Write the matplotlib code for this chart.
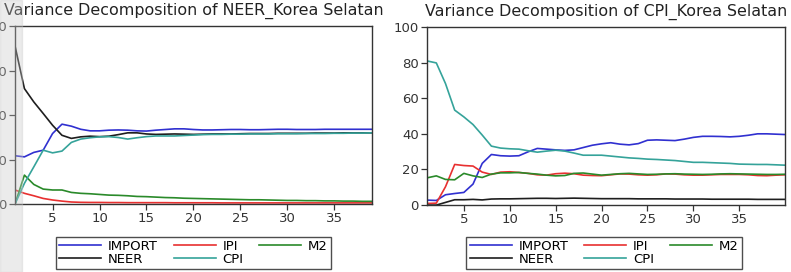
import numpy as np
import matplotlib
matplotlib.use('Agg')
import matplotlib.pyplot as plt
from matplotlib.patches import Rectangle

# Variance decomposition of NEER (periods 1..39)
neer_import = [21.7, 21.2, 23.2, 24.2, 31.7, 35.9, 35.0, 33.6, 32.9, 32.9,
               33.2, 33.3, 33.2, 32.9, 32.8, 33.2, 33.5, 33.8, 33.8, 33.5,
               33.3, 33.3, 33.4, 33.5, 33.5, 33.4, 33.4, 33.5, 33.6, 33.6,
               33.5, 33.5, 33.5, 33.6, 33.6, 33.6, 33.6, 33.6, 33.6]
neer_ipi = [6.3, 4.8, 3.7, 2.5, 1.8, 1.3, 0.9, 0.75, 0.7, 0.7,
            0.65, 0.65, 0.6, 0.6, 0.6, 0.6, 0.6, 0.55, 0.55, 0.55,
            0.55, 0.55, 0.5, 0.5, 0.5, 0.5, 0.5, 0.5, 0.5, 0.5,
            0.5, 0.5, 0.5, 0.5, 0.5, 0.5, 0.5, 0.5, 0.5]
neer_m2 = [0.0, 13.0, 8.8, 6.7, 6.3, 6.3, 5.2, 4.8, 4.6, 4.3,
           4.0, 3.9, 3.7, 3.4, 3.3, 3.1, 2.9, 2.8, 2.6, 2.5,
           2.4, 2.3, 2.2, 2.1, 2.0, 1.9, 1.9, 1.8, 1.7, 1.6,
           1.6, 1.5, 1.5, 1.4, 1.4, 1.3, 1.3, 1.2, 1.2]
neer_neer = [71.0, 51.9, 45.9, 40.7, 35.4, 30.9, 29.5, 30.2, 30.5, 30.3,
             30.5, 31.2, 32.0, 32.0, 31.5, 31.3, 31.4, 31.5, 31.4, 31.3,
             31.4, 31.5, 31.5, 31.5, 31.6, 31.7, 31.7, 31.7, 31.8, 31.8,
             31.8, 31.8, 31.9, 31.9, 31.9, 32.0, 32.0, 32.0, 32.0]
neer_cpi = [0.0, 9.3, 16.7, 24.2, 23.0, 23.8, 27.7, 29.2, 29.8, 30.2,
            30.3, 29.9, 29.2, 29.8, 30.3, 30.6, 30.6, 30.6, 30.8, 31.0,
            31.2, 31.3, 31.3, 31.4, 31.4, 31.5, 31.5, 31.5, 31.6, 31.6,
            31.6, 31.7, 31.7, 31.7, 31.8, 31.8, 31.9, 31.9, 32.0]

# Variance decomposition of CPI (periods 1..40)
cpi_import = [2.8, 2.6, 5.8, 6.5, 7.1, 11.8, 23.4, 28.4, 27.7, 27.5,
              27.7, 29.9, 31.8, 31.4, 31.0, 30.7, 31.0, 32.3, 33.6, 34.4,
              35.0, 34.2, 33.8, 34.5, 36.4, 36.6, 36.4, 36.2, 37.0, 38.0,
              38.6, 38.6, 38.5, 38.3, 38.6, 39.2, 40.0, 40.0, 39.8, 39.6]
cpi_ipi = [0.9, 1.1, 10.3, 22.8, 22.2, 21.9, 18.5, 17.2, 18.5, 18.7,
           18.3, 17.8, 17.0, 16.8, 17.6, 17.9, 17.6, 16.8, 16.6, 16.5,
           17.0, 17.5, 17.4, 17.0, 16.8, 17.0, 17.5, 17.4, 17.0, 16.8,
           16.8, 17.0, 17.2, 17.2, 17.2, 17.0, 16.6, 16.5, 16.8, 17.0]
cpi_m2 = [15.3, 16.4, 14.4, 14.2, 17.8, 16.4, 15.5, 17.4, 18.1, 18.1,
          18.3, 17.8, 17.4, 16.8, 16.4, 16.6, 17.8, 18.0, 17.4, 16.8,
          17.2, 17.6, 17.8, 17.5, 17.2, 17.3, 17.5, 17.6, 17.4, 17.3,
          17.2, 17.3, 17.5, 17.6, 17.5, 17.4, 17.3, 17.2, 17.2, 17.3]
cpi_neer = [0.0, 0.0, 1.5, 3.0, 3.0, 3.2, 2.9, 3.4, 3.5, 3.5,
            3.6, 3.7, 3.8, 3.8, 3.7, 3.8, 3.9, 3.8, 3.7, 3.6,
            3.6, 3.6, 3.6, 3.5, 3.5, 3.5, 3.5, 3.4, 3.4, 3.4,
            3.4, 3.3, 3.3, 3.3, 3.3, 3.3, 3.2, 3.2, 3.2, 3.2]
cpi_cpi = [80.9, 79.8, 68.2, 53.3, 49.5, 45.2, 39.3, 33.1, 32.0, 31.6,
           31.4, 30.5, 29.7, 30.3, 30.8, 30.3, 29.2, 28.0, 28.0, 28.0,
           27.5, 27.0, 26.5, 26.2, 25.8, 25.6, 25.3, 25.0, 24.5, 24.0,
           24.0, 23.8, 23.6, 23.4, 23.0, 22.9, 22.8, 22.8, 22.6, 22.4]

names = ['IMPORT', 'IPI', 'M2', 'NEER', 'CPI']
colors = ['#3030d0', '#e83030', '#2a8a2a', '#1e1e1e', '#35a39a']
xticks = [5, 10, 15, 20, 25, 30, 35]

plt.rcParams['font.family'] = ['DejaVu Sans']

fig = plt.figure(figsize=(7.91, 2.72), dpi=100)

# faint scan strip on the left edge (drawn over everything, semi-transparent)
fig.patches.append(Rectangle((0, 0), 22 / 791, 1, transform=fig.transFigure,
                             color='#c8c8c8', alpha=0.35, zorder=10))


def draw_panel(rect, series, xmax, ymax, yticks, title, leg_x):
    ax = fig.add_axes(rect)
    periods = np.arange(1, len(series[0]) + 1)
    handles = []
    for vals, name, col in zip(series, names, colors):
        h, = ax.plot(periods, vals, color=col, lw=1.2, label=name)
        handles.append(h)
    ax.set_xlim(1, xmax)
    ax.set_ylim(0, ymax)
    ax.set_xticks(xticks)
    ax.set_yticks(yticks)
    ax.tick_params(direction='out', length=4, width=0.9, labelsize=9.5,
                   colors='#333333', pad=2)
    for s in ax.spines.values():
        s.set_linewidth(1.0)
        s.set_color('#333333')
    ax.set_title(title, fontsize=11.4, color='#222222', pad=8)
    # legend column order: IMPORT/NEER, IPI/CPI, M2
    order = [0, 3, 1, 4, 2]
    leg = fig.legend([handles[i] for i in order], [names[i] for i in order],
                     ncol=3, loc='upper center', bbox_to_anchor=(leg_x, 0.13),
                     fontsize=9.5, frameon=True, fancybox=False, handlelength=3.2,
                     columnspacing=1.2, handletextpad=0.5, labelspacing=0.0,
                     borderpad=0.25, borderaxespad=0)
    leg.get_frame().set_edgecolor('#222222')
    leg.get_frame().set_linewidth(1.0)
    return ax


draw_panel([0.019, 0.25, 0.451, 0.654],
           [neer_import, neer_ipi, neer_m2, neer_neer, neer_cpi],
           39, 80, [0, 20, 40, 60, 80],
           'Variance Decomposition of NEER_Korea Selatan', 0.2446)
draw_panel([0.540, 0.246, 0.4526, 0.655],
           [cpi_import, cpi_ipi, cpi_m2, cpi_neer, cpi_cpi],
           40, 100, [0, 20, 40, 60, 80, 100],
           'Variance Decomposition of CPI_Korea Selatan', 0.7636)

fig.savefig('out.png', dpi=100)
